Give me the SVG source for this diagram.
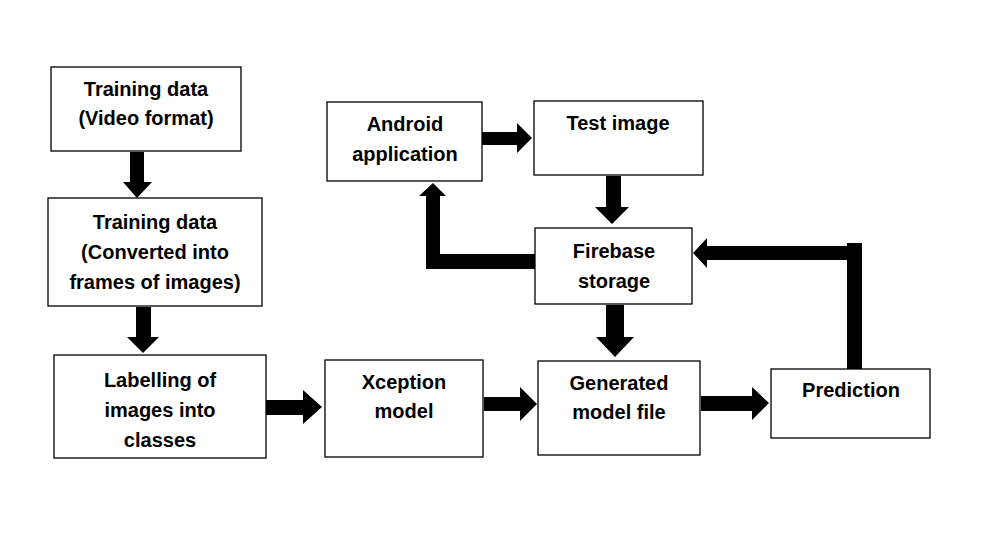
<svg xmlns="http://www.w3.org/2000/svg" width="983" height="557" viewBox="0 0 983 557">
<style>
.box{fill:#fff;stroke:#000;stroke-width:1.3}
.lbl{font-family:"Liberation Sans",Arial,sans-serif;font-weight:bold;font-size:20px;fill:#000;text-anchor:middle}
.arr{fill:#000;stroke:none}
</style>
<rect width="983" height="557" fill="#fff"/>
<g id="connectors">
<polygon class="arr" points="130,152 144,152 144,182 152,182 137,198 123,182 130,182"/>
<polygon class="arr" points="136,307 151,307 151,337 159,337 143,353 127,337 136,337"/>
<polygon class="arr" points="265,400 303,400 303,390 322,407 303,424 303,415 265,415"/>
<polygon class="arr" points="484,397 520,397 520,387 537,404 520,421 520,411 484,411"/>
<polygon class="arr" points="701,396 752,396 752,387 769,403 752,420 752,411 701,411"/>
<polygon class="arr" points="862,243 862,369 847,369 847,260 707,260 707,268 693,253 707,238 707,246 847,246 847,243"/>
<polygon class="arr" points="535,254 535,269 426,269 426,196 419,196 433,183 446,196 440,196 440,254"/>
<polygon class="arr" points="482,132 517,132 517,123 532,138 517,153 517,145 482,145"/>
<polygon class="arr" points="606,176 621,176 621,207 629,207 612,224 595,207 606,207"/>
<polygon class="arr" points="606,305 624,305 624,337 634,337 615,357 596,337 606,337"/>
</g>
<g id="n1"><rect class="box" x="51" y="67" width="190" height="84"/>
<text class="lbl" x="146" y="96">Training data</text><text class="lbl" x="146" y="125">(Video format)</text></g>
<g id="n2"><rect class="box" x="48" y="198" width="214" height="108"/>
<text class="lbl" x="155" y="229">Training data</text><text class="lbl" x="155" y="259">(Converted into</text><text class="lbl" x="155" y="289">frames of images)</text></g>
<g id="n3"><rect class="box" x="54" y="355" width="212" height="103"/>
<text class="lbl" x="160" y="387">Labelling of</text><text class="lbl" x="160" y="417">images into</text><text class="lbl" x="160" y="447">classes</text></g>
<g id="n4"><rect class="box" x="325" y="360" width="158" height="97"/>
<text class="lbl" x="404" y="389">Xception</text><text class="lbl" x="404" y="418">model</text></g>
<g id="n5"><rect class="box" x="538" y="361" width="162" height="94"/>
<text class="lbl" x="619" y="390">Generated</text><text class="lbl" x="619" y="419">model file</text></g>
<g id="n6"><rect class="box" x="771" y="369" width="159" height="69"/>
<text class="lbl" x="851" y="397">Prediction</text></g>
<g id="n7"><rect class="box" x="327" y="102" width="155" height="79"/>
<text class="lbl" x="405" y="131">Android</text><text class="lbl" x="405" y="161">application</text></g>
<g id="n8"><rect class="box" x="534" y="101" width="169" height="74"/>
<text class="lbl" x="618" y="130">Test image</text></g>
<g id="n9"><rect class="box" x="535" y="228" width="157" height="76"/>
<text class="lbl" x="614" y="258">Firebase</text><text class="lbl" x="614" y="288">storage</text></g>
</svg>
